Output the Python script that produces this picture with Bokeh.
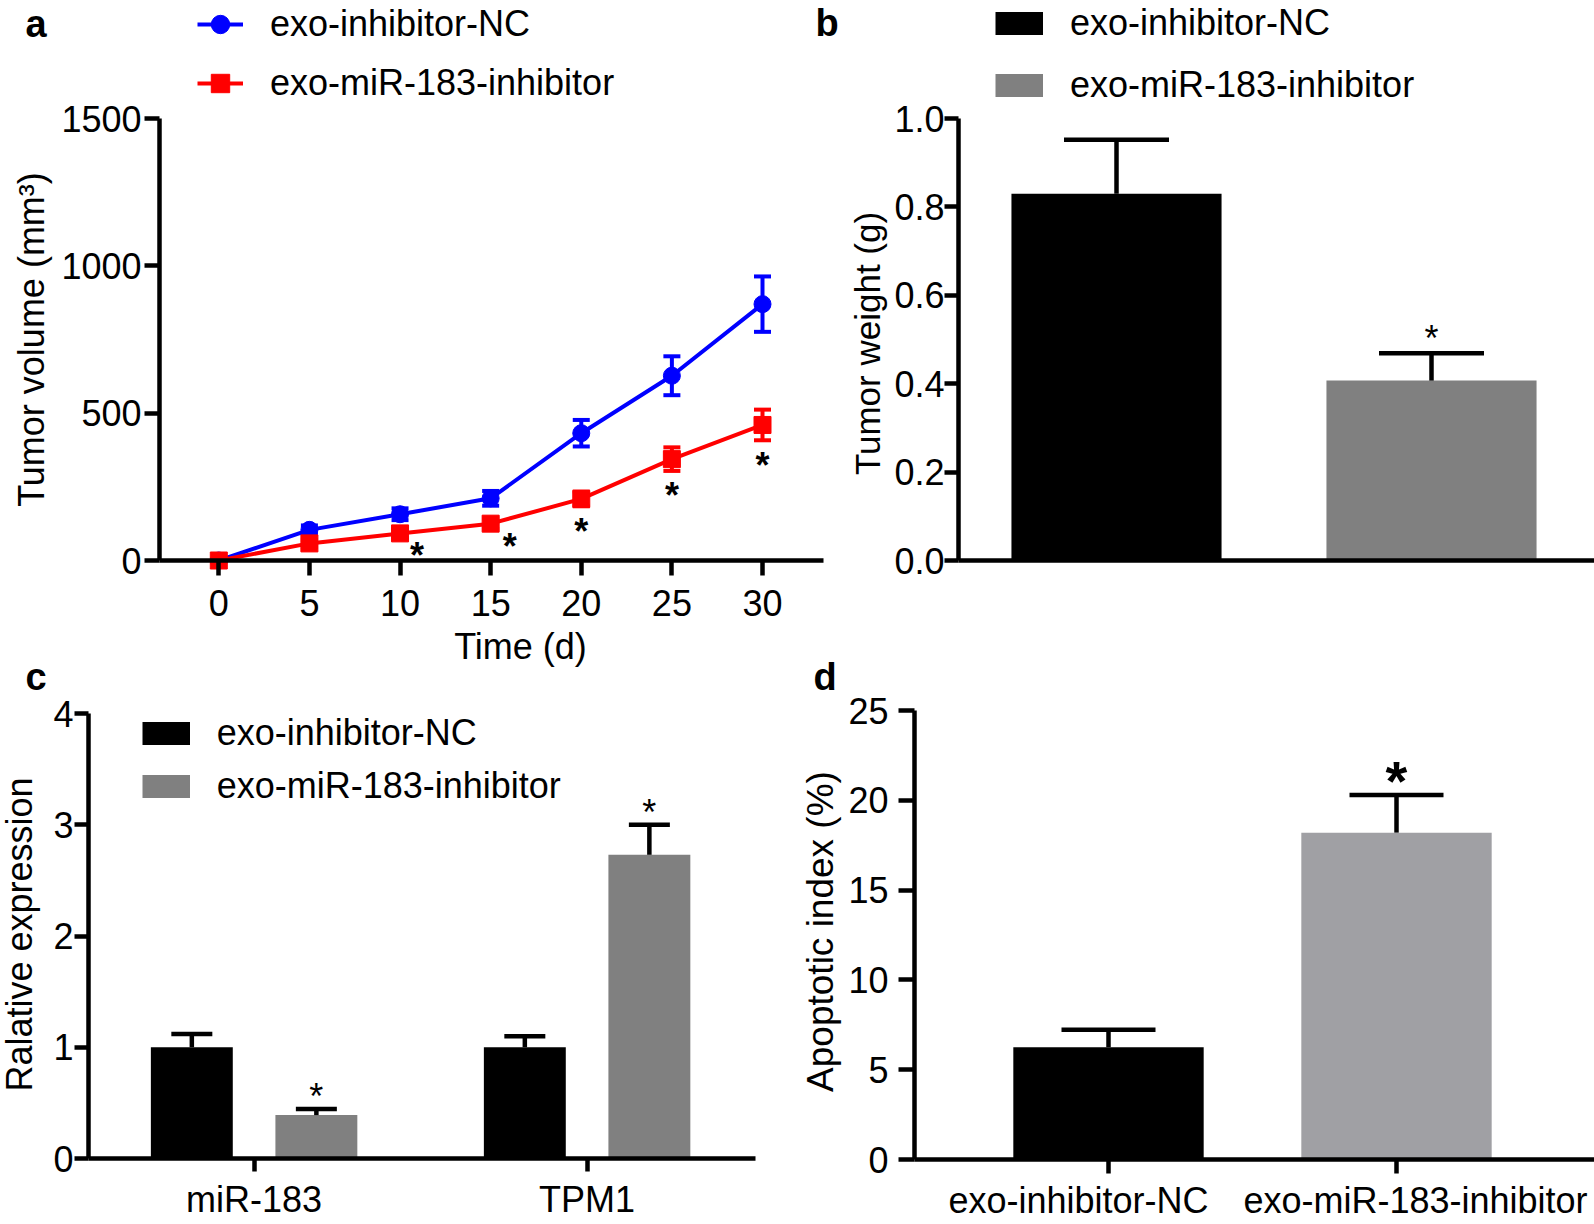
import math
from bokeh.plotting import figure
from bokeh.models import (Range1d, FixedTicker, Whisker, TeeHead, ColumnDataSource,
                          Legend, LegendItem, Label, LinearAxis, NumeralTickFormatter)
from bokeh.embed import file_html
from bokeh.resources import INLINE
from bokeh.core.properties import value

# ---------------- data ----------------
days = [0, 5, 10, 15, 20, 25, 30]
day_ticks = [0, 5, 10, 15, 20, 25, 30]
nc_volume = [0, 104, 157, 211, 432, 627, 870]
nc_volume_err = [0, 15, 20, 25, 45, 66, 94]
inh_volume = [0, 58, 92, 125, 209, 344, 460]
inh_volume_err = [0, 12, 15, 18, 25, 40, 52]
volume_signif = [False, False, True, True, True, True, True]
volume_ticks = [0, 500, 1000, 1500]

groups = ["exo-inhibitor-NC", "exo-miR-183-inhibitor"]
weight = [0.83, 0.407]
weight_err = [0.122, 0.062]
weight_signif = [False, True]
weight_ticks = [0.0, 0.2, 0.4, 0.6, 0.8, 1.0]

genes = ["miR-183", "TPM1"]
expr_nc = [1.0, 1.0]
expr_nc_err = [0.12, 0.10]
expr_inh = [0.39, 2.73]
expr_inh_err = [0.055, 0.27]
expr_signif = [True, True]
expr_ticks = [0, 1, 2, 3, 4]

apoptosis = [6.25, 18.2]
apoptosis_err = [0.98, 2.1]
apoptosis_signif = [False, True]
apoptosis_ticks = [0, 5, 10, 15, 20, 25]

# ---------------- style ----------------
FONT = "Liberation Sans"
FS = "36px"
BLUE = "#0000FF"
RED = "#FF0000"
GRAY = "#808080"
LGRAY = "#A0A0A4"
W, H = 1594, 1222
BASE_SHIFT = 0.35   # em offset between text anchor and the drawn baseline


def mapper(p0, v0, p1, v1):
    s = (v1 - v0) / (p1 - p0)
    return lambda px: v0 + (px - p0) * s


# panel scales: page pixel -> data value
fxa, fya = mapper(218.3, 0, 762, 30), mapper(560, 0, 118, 1500)
fxb, fyb = mapper(1116, 1, 1431, 2), mapper(560, 0, 118, 1)
fxc, fyc = mapper(253.6, 1, 586.6, 2), mapper(1158, 0, 713, 4)
fxd, fyd = mapper(1108, 1, 1396, 2), mapper(1159, 0, 710, 25)
SCALES = {"a": (fxa, fya), "b": (fxb, fyb), "c": (fxc, fyc), "d": (fxd, fyd)}

p = figure(width=W, height=H, x_range=Range1d(0, W), y_range=Range1d(0, H),
           output_backend="svg", toolbar_location=None,
           x_axis_location=None, y_axis_location=None,
           min_border_left=0, min_border_right=0, min_border_top=0, min_border_bottom=0)
p.outline_line_color = None
p.background_fill_color = "white"
p.border_fill_color = "white"
for g in p.grid:
    g.visible = False
p.extra_x_ranges = {k: Range1d(fx(0), fx(W)) for k, (fx, fy) in SCALES.items()}
p.extra_y_ranges = {k: Range1d(fy(H), fy(0)) for k, (fx, fy) in SCALES.items()}


def styled_axis(name, dim, ticks, fixed, bounds, tick_out, standoff, lw=4.5):
    ax = LinearAxis(x_range_name=name, y_range_name=name,
                    ticker=FixedTicker(ticks=ticks), fixed_location=fixed, bounds=bounds)
    ax.axis_line_width = lw
    ax.axis_line_color = "black"
    ax.major_tick_line_width = lw
    ax.major_tick_line_color = "black"
    ax.major_tick_out = tick_out
    ax.major_tick_in = 0
    ax.minor_tick_line_color = None
    ax.major_label_standoff = standoff
    ax.major_label_text_font = FONT
    ax.major_label_text_font_size = FS
    ax.major_label_text_color = "black"
    p.add_layout(ax, "below" if dim == "x" else "left")
    return ax


def add_text(text, X, Y, vertical=False, size=36, style="normal", align="left"):
    """X, Y: page position of the text baseline (for vertical text X is the baseline)."""
    if vertical:
        X = X - BASE_SHIFT * size
    else:
        Y = Y - BASE_SHIFT * size
    p.add_layout(Label(x=X, y=H - Y, x_units="screen", y_units="screen", text=text,
                       angle=math.pi / 2 if vertical else 0.0, text_font=FONT,
                       text_font_size=f"{size}px", text_font_style=style,
                       text_align=align, text_baseline="alphabetic", text_color="black"))


def add_legend(renderers, label, X, Ybottom, gw, gh):
    leg = Legend(items=[LegendItem(label=value(label), renderers=renderers)],
                 location=(X, H - Ybottom), glyph_width=gw, glyph_height=gh,
                 label_height=gh, label_standoff=27, padding=0, margin=0, spacing=0,
                 border_line_color=None, background_fill_alpha=0,
                 label_text_font=FONT, label_text_font_size=FS, label_text_color="black")
    p.add_layout(leg)


def stars(name, xs, ys, size, style, dx=None, dy=None):
    n = len(xs)
    src = ColumnDataSource(dict(x=xs, y=ys, t=["*"] * n,
                                dx=dx if dx is not None else [0] * n,
                                dy=dy if dy is not None else [0] * n))
    p.text(x="x", y="y", text="t", x_offset="dx", y_offset="dy", source=src,
           x_range_name=name, y_range_name=name,
           text_font=value(FONT), text_font_size=value(size), text_font_style=style,
           text_align="center", text_baseline="alphabetic", text_color="black")


def bar_whisker(name, src, cap):
    p.add_layout(Whisker(source=src, base="x", lower="top", upper="hi",
                         x_range_name=name, y_range_name=name,
                         line_color="black", line_width=4.5, level="annotation",
                         upper_head=TeeHead(size=cap, line_color="black", line_width=4.5),
                         lower_head=None))


# ---------------- panel a ----------------
styled_axis("a", "x", day_ticks, 0, (fxa(159), fxa(823)), 15, 14)
styled_axis("a", "y", volume_ticks, fxa(159), (0, 1500), 15, 3)

series = []
for mean, err, color, marker in [(nc_volume, nc_volume_err, BLUE, "circle"),
                                 (inh_volume, inh_volume_err, RED, "square")]:
    src = ColumnDataSource(dict(x=days, y=mean,
                                lo=[m - e for m, e in zip(mean, err)],
                                hi=[m + e for m, e in zip(mean, err)]))
    p.add_layout(Whisker(source=src, base="x", lower="lo", upper="hi",
                         x_range_name="a", y_range_name="a",
                         line_color=color, line_width=4, level="underlay",
                         upper_head=TeeHead(size=17, line_color=color, line_width=4),
                         lower_head=TeeHead(size=17, line_color=color, line_width=4)))
    ln = p.line("x", "y", source=src, line_color=color, line_width=4,
                x_range_name="a", y_range_name="a")
    sc = p.scatter("x", "y", source=src, marker=marker, size=17, fill_color=color,
                   line_color=color, x_range_name="a", y_range_name="a")
    series.append([ln, sc])

sig = [i for i, s in enumerate(volume_signif) if s]
STAR_DX = [0, 0, 17, 19, 0, 0, 0]
STAR_DY = [0, 0, 18, 18, 25, 25, 25]
stars("a", [days[i] for i in sig], [inh_volume[i] - inh_volume_err[i] for i in sig],
      "36px", "bold", [STAR_DX[i] for i in sig], [STAR_DY[i] for i in sig])

add_legend(series[0], groups[0], 197, 47, 46, 46)
add_legend(series[1], groups[1], 197, 106, 46, 46)
add_text("a", 25, 37, size=38, style="bold")
add_text("Tumor volume (mm³)", 44, 339, vertical=True, align="center")
add_text("Time (d)", 520, 659, align="center")

# ---------------- panel b ----------------
xb = styled_axis("b", "x", [], 0, (fxb(958), fxb(W)), 0, 0)
xb.major_tick_line_color = None
yb = styled_axis("b", "y", weight_ticks, fxb(958), (0, 1), 14, 0)
yb.formatter = NumeralTickFormatter(format="0.0")

xs_b = [i + 1 for i in range(len(groups))]
src_b = ColumnDataSource(dict(x=xs_b, top=weight,
                              hi=[m + e for m, e in zip(weight, weight_err)],
                              color=["black", GRAY]))
p.vbar(x="x", top="top", bottom=0, width=0.667, fill_color="color", line_color=None,
       source=src_b, x_range_name="b", y_range_name="b")
bar_whisker("b", src_b, 105)
sig = [i for i, s in enumerate(weight_signif) if s]
stars("b", [xs_b[i] for i in sig], [weight[i] + weight_err[i] for i in sig], "36px",
      "normal", None, [-15] * len(sig))

db0 = p.line(x=[xs_b[0]], y=[0], line_color="black", line_width=23,
             x_range_name="b", y_range_name="b")
db1 = p.line(x=[xs_b[1]], y=[0], line_color=GRAY, line_width=23,
             x_range_name="b", y_range_name="b")
add_legend([db0], groups[0], 995, 45.3, 48, 44)
add_legend([db1], groups[1], 995, 107, 48, 44)
add_text("b", 815, 36, size=38, style="bold")
add_text("Tumor weight (g)", 879, 343, vertical=True, size=35, align="center")

# ---------------- panel c ----------------
xs_c = [i + 1 for i in range(len(genes))]
xc = styled_axis("c", "x", xs_c, 0, (fxc(88), fxc(755)), 13, 7)
xc.major_label_overrides = {x: g for x, g in zip(xs_c, genes)}
styled_axis("c", "y", expr_ticks, fxc(88), (0, 4), 14, 1)

OFF = 0.187
for mean, err, color, sgn in [(expr_nc, expr_nc_err, "black", -1),
                              (expr_inh, expr_inh_err, GRAY, 1)]:
    src = ColumnDataSource(dict(x=[x + sgn * OFF for x in xs_c], top=mean,
                                hi=[m + e for m, e in zip(mean, err)]))
    p.vbar(x="x", top="top", bottom=0, width=0.246, fill_color=color, line_color=None,
           source=src, x_range_name="c", y_range_name="c")
    bar_whisker("c", src, 41)
sig = [i for i, s in enumerate(expr_signif) if s]
stars("c", [xs_c[i] + OFF for i in sig], [expr_inh[i] + expr_inh_err[i] for i in sig],
      "36px", "normal", None, [-12] * len(sig))

dc0 = p.line(x=[xs_c[0]], y=[0], line_color="black", line_width=23,
             x_range_name="c", y_range_name="c")
dc1 = p.line(x=[xs_c[1]], y=[0], line_color=GRAY, line_width=23,
             x_range_name="c", y_range_name="c")
add_legend([dc0], groups[0], 141.7, 755.4, 48, 44)
add_legend([dc1], groups[1], 141.7, 807.5, 48, 44)
add_text("c", 25, 690, size=38, style="bold")
add_text("Ralative expression", 32, 934, vertical=True, align="center")

# ---------------- panel d ----------------
xs_d = [i + 1 for i in range(len(groups))]
xd = styled_axis("d", "x", xs_d, 0, (fxd(914), fxd(W)), 14, 2)
xd.major_label_overrides = {x: "" for x in xs_d}
styled_axis("d", "y", apoptosis_ticks, fxd(914), (0, 25), 16, 10)

src_d = ColumnDataSource(dict(x=xs_d, top=apoptosis,
                              hi=[m + e for m, e in zip(apoptosis, apoptosis_err)],
                              color=["black", LGRAY]))
p.vbar(x="x", top="top", bottom=0, width=0.661, fill_color="color", line_color=None,
       source=src_d, x_range_name="d", y_range_name="d")
bar_whisker("d", src_d, 94)
sig = [i for i, s in enumerate(apoptosis_signif) if s]
stars("d", [xs_d[i] for i in sig], [apoptosis[i] + apoptosis_err[i] for i in sig],
      "56px", "bold", None, [-14] * len(sig))

# category labels under the ticks (pushed apart as in the original)
LABEL_DX = [-30, 19]
for i, g in enumerate(groups):
    p.add_layout(Label(x=xs_d[i], y=H - (1213 - BASE_SHIFT * 36), x_units="data",
                       y_units="screen", x_range_name="d", x_offset=LABEL_DX[i], text=g,
                       text_font=FONT, text_font_size=FS, text_align="center",
                       text_baseline="alphabetic", text_color="black"))
add_text("d", 813, 690, size=38, style="bold")
add_text("Apoptotic index (%)", 833, 931, vertical=True, size=37, align="center")

open("out.html", "w").write(file_html(p, INLINE))
